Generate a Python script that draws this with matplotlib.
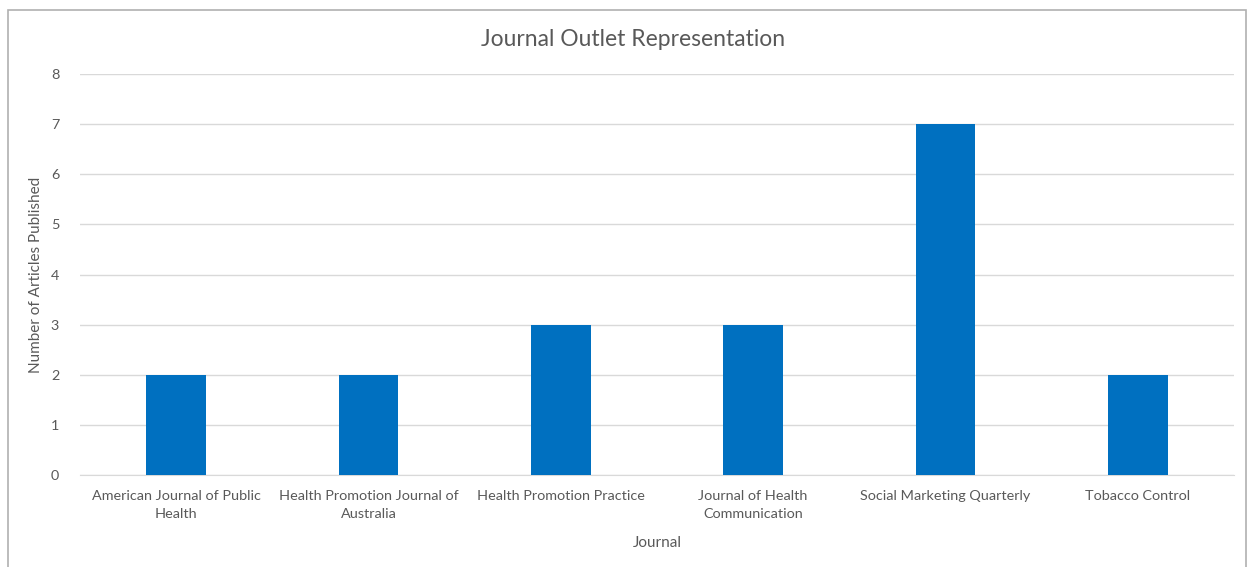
import matplotlib
matplotlib.use("Agg")
import matplotlib.pyplot as plt
from matplotlib.patches import Rectangle

categories = ["American Journal of Public\nHealth",
              "Health Promotion Journal of\nAustralia",
              "Health Promotion Practice",
              "Journal of Health\nCommunication",
              "Social Marketing Quarterly",
              "Tobacco Control"]
values = [2, 2, 3, 3, 7, 2]
yticks = [0, 1, 2, 3, 4, 5, 6, 7, 8]

plt.rcParams['font.family'] = ['Lato', 'DejaVu Sans']
text_color = "#595959"

W, H = 1248, 567
fig = plt.figure(figsize=(W/100, H/100), dpi=100)
fig.patches.append(Rectangle((8/W, -0.05), (1246-8)/W, 1.05 - 10/H, transform=fig.transFigure,
                             fill=False, edgecolor="#b0b0b0", linewidth=1.2))

ax = fig.add_axes([80/W, 1 - 475/H, (1234-80)/W, (475-74)/H])
x = range(len(categories))
ax.bar(x, values, width=0.31, color="#0070C0", zorder=3)
ax.set_xlim(-0.5, len(categories) - 0.5)
ax.set_ylim(0, 8)
ax.set_yticks(yticks)
ax.set_xticks(list(x))
ax.set_xticklabels(categories, fontsize=10.4, color=text_color, linespacing=1.55)
ax.tick_params(axis='y', labelsize=10.4, labelcolor=text_color, length=0, pad=15)
ax.tick_params(axis='x', length=0, pad=11)
ax.grid(axis='y', color="#d9d9d9", linewidth=1, zorder=0)
for s in ["top", "right", "left"]:
    ax.spines[s].set_visible(False)
ax.spines["bottom"].set_color("#d9d9d9")
ax.set_xlabel("Journal", fontsize=11, color=text_color, labelpad=12)
ax.set_ylabel("Number of Articles Published", fontsize=11, color=text_color, labelpad=14)
ax.yaxis.set_label_coords((43 - 80)/(1234-80), 0.5)
fig.text(633/W, 1 - 40/H, "Journal Outlet Representation", ha="center", va="center",
         fontsize=16.5, color=text_color)

fig.savefig("out.png", dpi=100, facecolor="white")
